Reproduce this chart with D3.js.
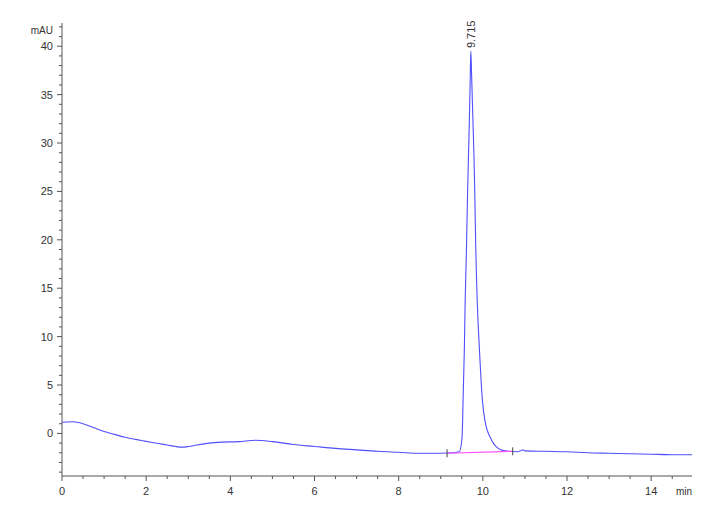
<!DOCTYPE html>
<html>
<head>
<meta charset="utf-8">
<script src="https://cdn.jsdelivr.net/npm/d3@7"></script>
<style>
  html, body { margin: 0; padding: 0; background: #fff; }
  svg { display: block; }
  text { font-family: "Liberation Sans Narrow", "Liberation Sans", Arial, sans-serif; fill: #333; }
</style>
</head>
<body>
<svg id="chart" width="720" height="528"></svg>
<script>
// ---- data ----
const retentionTime = [
  0, 0.25, 0.5, 0.75, 1.0, 1.25, 1.5, 1.75, 2.0, 2.25, 2.5, 2.7, 2.85, 3.0, 3.2, 3.5, 3.8, 4.2, 4.6, 5.0, 5.5, 6.0, 6.5, 7.0, 7.5, 8.0, 8.5, 9.0, 9.3, 9.44,
  9.50, 9.52, 9.53, 9.56, 9.58, 9.61, 9.633, 9.655, 9.675, 9.695, 9.715, 9.73, 9.75, 9.77, 9.79, 9.81, 9.83, 9.85, 9.87, 9.92, 9.99, 10.05, 10.21, 10.41,
  10.6, 10.8, 10.9, 10.95, 11.0, 11.5, 12.0, 12.5, 13.0, 13.5, 14.0, 14.5, 14.97
];
const absorbance = [
  1.15, 1.2, 1.0, 0.6, 0.2, -0.1, -0.4, -0.62, -0.82, -1.02, -1.2, -1.36, -1.42, -1.36, -1.2, -1.0, -0.9, -0.85, -0.7, -0.85, -1.15, -1.35, -1.55, -1.7, -1.85, -1.95, -2.05, -2.05, -2.0, -1.9,
  -0.7, 1.3, 3.4, 8.6, 13.7, 18.9, 24.0, 28.0, 31.5, 35.5, 39.5, 37.5, 34.5, 31.5, 28.5, 24.5, 19.5, 16.0, 13.3, 8.6, 3.4, 1.3, -0.7, -1.65,
  -1.85, -1.9, -1.8, -1.7, -1.8, -1.85, -1.9, -2.0, -2.05, -2.1, -2.15, -2.2, -2.2
];
const peakTime = 9.715;
const peakHeight = 39.5;
const peakLabel = "9.715";
const baselineTimes = [9.15, 10.71];
const baselineValues = [-2.05, -1.85];
const xTicks = [0, 2, 4, 6, 8, 10, 12, 14];
const yTicks = [0, 5, 10, 15, 20, 25, 30, 35, 40];
const xUnit = "min";
const yUnit = "mAU";

// ---- layout ----
const svg = d3.select("#chart");
const x = d3.scaleLinear().domain([0, 14.97]).range([62, 692]);
const y = d3.scaleLinear().domain([-4.4, 42.4]).range([476, 23]);
const axisColor = "#555";

// x axis
const xMinor = d3.range(0, 14.97, 0.5);
const gx = svg.append("g").attr("transform", `translate(0,${y.range()[0]})`);
gx.append("line").attr("x1", x.range()[0]).attr("x2", x.range()[1]).attr("stroke", axisColor);
gx.selectAll(".mn").data(xMinor).join("line")
  .attr("x1", d => x(d)).attr("x2", d => x(d)).attr("y1", 0)
  .attr("y2", d => (xTicks.includes(d) ? 5 : 3)).attr("stroke", axisColor);
gx.selectAll("text.tl").data(xTicks).join("text")
  .attr("class", "tl").attr("x", d => x(d)).attr("y", 19)
  .attr("text-anchor", "middle").attr("font-size", 11).text(d => d);
gx.append("text").attr("x", x.range()[1]).attr("y", 19)
  .attr("text-anchor", "end").attr("font-size", 10).text(xUnit);

// y axis
const yMinor = d3.range(-4, 42.5, 1);
const gy = svg.append("g").attr("transform", `translate(${x.range()[0]},0)`);
gy.append("line").attr("y1", y.range()[0]).attr("y2", y.range()[1]).attr("stroke", axisColor);
gy.selectAll(".mn").data(yMinor).join("line")
  .attr("y1", d => y(d)).attr("y2", d => y(d)).attr("x1", 0)
  .attr("x2", d => (yTicks.includes(d) ? -5 : -3)).attr("stroke", axisColor);
gy.selectAll("text.tl").data(yTicks).join("text")
  .attr("class", "tl").attr("x", -9).attr("y", d => y(d)).attr("dy", "0.36em")
  .attr("text-anchor", "end").attr("font-size", 11).text(d => d);
gy.append("text").attr("x", -9).attr("y", y(41.6))
  .attr("dy", "0.36em").attr("text-anchor", "end").attr("font-size", 10).text(yUnit);

// signal
const pts = retentionTime.map((t, i) => [t, absorbance[i]]);
const line = d3.line().x(d => x(d[0])).y(d => y(d[1])).curve(d3.curveMonotoneX);
svg.append("path").datum(pts).attr("d", line)
  .attr("fill", "none").attr("stroke", "#4f4fff").attr("stroke-width", 1.1);

// integration baseline
const bl = baselineTimes.map((t, i) => [t, baselineValues[i]]);
svg.append("path").datum(bl).attr("d", d3.line().x(d => x(d[0])).y(d => y(d[1])))
  .attr("fill", "none").attr("stroke", "#ff4dff").attr("stroke-width", 1.1);
svg.selectAll(".bt").data(bl).join("line")
  .attr("x1", d => x(d[0])).attr("x2", d => x(d[0]))
  .attr("y1", d => y(d[1]) - 4).attr("y2", d => y(d[1]) + 4)
  .attr("stroke", "#444").attr("stroke-width", 1);

// peak label
svg.append("text")
  .attr("transform", `translate(${x(peakTime) + 4},${y(peakHeight) - 3}) rotate(-90)`)
  .attr("text-anchor", "start").attr("font-size", 11).text(peakLabel);
</script>
</body>
</html>
